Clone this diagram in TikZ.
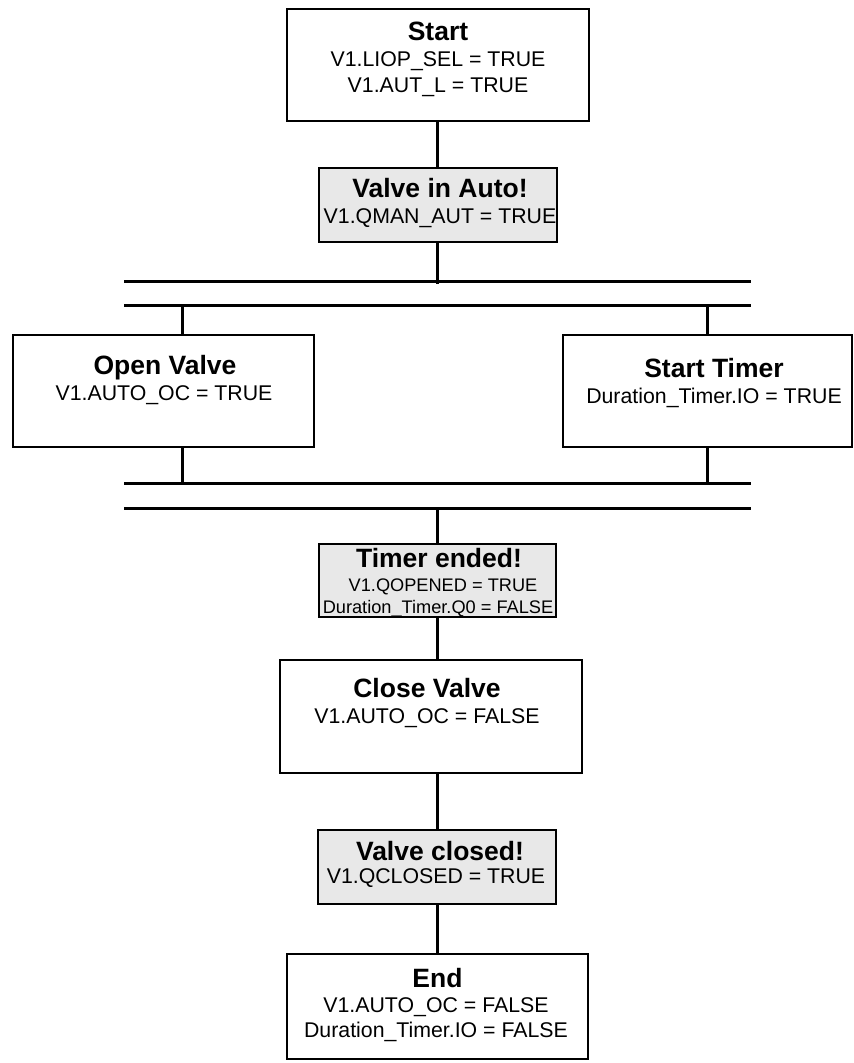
\documentclass[tikz,border=0pt]{standalone}
\usepackage{fontspec}
\setmainfont{Liberation Sans}
\definecolor{condgray}{RGB}{232,232,232}
\begin{document}
\begin{tikzpicture}[x=1pt,y=-1pt,
  stepbox/.style={draw=black, line width=2pt, fill=white, inner sep=0pt},
  condbox/.style={stepbox, fill=condgray},
  title/.style={anchor=base, inner sep=0pt, font=\fontsize{26.5}{30}\selectfont\bfseries},
  body/.style={anchor=base, inner sep=0pt, font=\fontsize{21.3}{25}\selectfont},
  smallbody/.style={anchor=base, inner sep=0pt, font=\fontsize{18.2}{22}\selectfont},
  conn/.style={draw=black, line width=3pt},
  bar/.style={draw=black, line width=3pt}]
\useasboundingbox (0,0) rectangle (854,1063);

% steps and transition conditions
\node[stepbox, minimum width=302pt, minimum height=112pt] (start) at (438,65) {};
\node[title] (startT) at (438,40) {Start};
\node[body] (startB1) at (438,66) {V1.LIOP\_SEL = TRUE};
\node[body] (startB2) at (438,92) {V1.AUT\_L = TRUE};

\node[condbox, minimum width=238pt, minimum height=74pt] (auto) at (438,205) {};
\node[title] (autoT) at (440,197) {Valve in Auto!};
\node[body] (autoB) at (440,223) {V1.QMAN\_AUT = TRUE};

\node[stepbox, minimum width=301pt, minimum height=112pt] (open) at (163.5,391) {};
\node[title] (openT) at (165,374) {Open Valve};
\node[body] (openB) at (164,400) {V1.AUTO\_OC = TRUE};

\node[stepbox, minimum width=289pt, minimum height=112pt] (timer) at (707.5,391) {};
\node[title] (timerT) at (714,377) {Start Timer};
\node[body] (timerB) at (714,403) {Duration\_Timer.IO = TRUE};

\node[condbox, minimum width=237pt, minimum height=73pt] (ended) at (437.5,580.5) {};
\node[title] (endedT) at (439,567) {Timer ended!};
\node[smallbody] (endedB1) at (443,591) {V1.QOPENED = TRUE};
\node[smallbody] (endedB2) at (438,613) {Duration\_Timer.Q0 = FALSE};

\node[stepbox, minimum width=302pt, minimum height=113pt] (close) at (431,716.5) {};
\node[title] (closeT) at (427,697) {Close Valve};
\node[body] (closeB) at (427,723) {V1.AUTO\_OC = FALSE};

\node[condbox, minimum width=238pt, minimum height=74pt] (closed) at (437,867) {};
\node[title] (closedT) at (440,860) {Valve closed!};
\node[body] (closedB) at (436,883) {V1.QCLOSED = TRUE};

\node[stepbox, minimum width=301pt, minimum height=105pt] (end) at (437.5,1006.5) {};
\node[title] (endT) at (437.5,987) {End};
\node[body] (endB1) at (436,1012) {V1.AUTO\_OC = FALSE};
\node[body] (endB2) at (436,1037) {Duration\_Timer.IO = FALSE};

% double bars of the parallel branch
\coordinate (b1l) at (124,281); \coordinate (b1r) at (751,281);
\coordinate (b2l) at (124,305); \coordinate (b2r) at (751,305);
\coordinate (b3l) at (124,483); \coordinate (b3r) at (751,483);
\coordinate (b4l) at (124,508); \coordinate (b4r) at (751,508);
\draw[bar] (b1l) -- (b1r);
\draw[bar] (b2l) -- (b2r);
\draw[bar] (b3l) -- (b3r);
\draw[bar] (b4l) -- (b4r);

% drop positions of the branch connectors
\coordinate (mx) at (437.5,0);
\coordinate (lx) at (182,0);
\coordinate (rx) at (707,0);

% connectors
\draw[conn] (start.south -| mx) -- (auto.north -| mx);
\draw[conn] (auto.south -| mx) -- ([yshift=-3pt]mx |- b1l);
\draw[conn] (lx |- b2l) -- (lx |- open.north);
\draw[conn] (rx |- b2l) -- (rx |- timer.north);
\draw[conn] (lx |- open.south) -- (lx |- b3l);
\draw[conn] (rx |- timer.south) -- (rx |- b3l);
\draw[conn] (mx |- b4l) -- (mx |- ended.north);
\draw[conn] (ended.south -| mx) -- (close.north -| mx);
\draw[conn] (close.south -| mx) -- (closed.north -| mx);
\draw[conn] (closed.south -| mx) -- (end.north -| mx);
\end{tikzpicture}
\end{document}
